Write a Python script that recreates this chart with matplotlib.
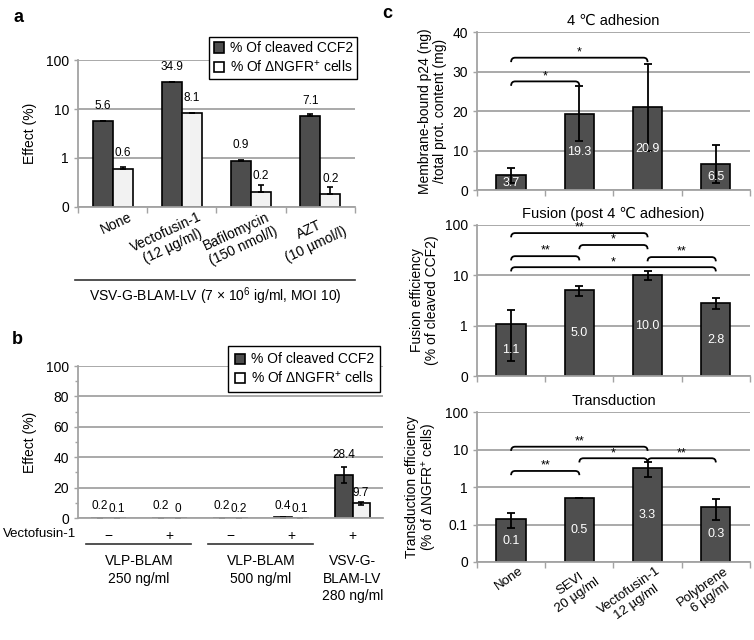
import matplotlib
matplotlib.use('Agg')
import matplotlib.pyplot as plt
import numpy as np
from matplotlib.patches import Patch, PathPatch
from matplotlib.path import Path
from matplotlib.lines import Line2D
from matplotlib import transforms as mtransforms
from matplotlib.ticker import FixedLocator, FixedFormatter, NullLocator, MultipleLocator

plt.rcParams['font.family'] = ['Liberation Sans', 'DejaVu Sans']
plt.rcParams['mathtext.fontset'] = 'custom'
plt.rcParams['mathtext.rm'] = 'Liberation Sans'
plt.rcParams['mathtext.it'] = 'Liberation Sans:italic'

DARK = '#4d4d4d'
LIGHT = '#f2f2f2'
GRID = '#a3a3a3'

# panel a: VSV-G-BLAM-LV, log scale
a_labels = ['None', 'Vectofusin-1\n(12 µg/ml)', 'Bafilomycin\n(150 nmol/l)', 'AZT\n(10 µmol/l)']
a_ccf2 = [5.6, 34.9, 0.86, 7.1]
a_ccf2_err = [0.1, 0.6, 0.04, 0.8]
a_ngfr = [0.6, 8.1, 0.2, 0.18]
a_ngfr_err = [0.04, 0.1, 0.08, 0.07]

# panel b: VLP-BLAM vs VSV-G-BLAM-LV, linear scale
b_vecto = ['−', '+', '−', '+', '+']
b_ccf2 = [0.2, 0.2, 0.2, 0.4, 28.4]
b_ccf2_err = [0.05, 0.05, 0.05, 0.1, 5.3]
b_ngfr = [0.1, 0.0, 0.2, 0.1, 9.7]
b_ngfr_err = [0.03, 0.0, 0.05, 0.03, 1.0]
b_groups = ['VLP-BLAM\n250 ng/ml', 'VLP-BLAM\n500 ng/ml', 'VSV-G-\nBLAM-LV\n280 ng/ml']
b_group_span = [(0, 1), (2, 3), (4, 4)]

# panel c
c_labels = ['None', 'SEVI\n20 µg/ml', 'Vectofusin-1\n12 µg/ml', 'Polybrene\n6 µg/ml']
c1_vals = [3.7, 19.3, 20.9, 6.5]
c1_err = [1.8, 7.0, 11.0, 4.8]
c1_brackets = [(0, 1, 27.5, '*'), (0, 2, 33.5, '*')]
c2_vals = [1.1, 5.0, 10.0, 2.8]
c2_err = [0.9, 1.2, 2.1, 0.7]
c2_brackets = [(0, 2, 69, '**'), (1, 2, 40, '*'), (0, 1, 24, '**'), (2, 3, 23, '**'), (0, 3, 14.5, '*')]
c3_vals = [0.14, 0.5, 3.3, 0.3]
c3_err = [0.06, 0.0, 1.4, 0.17]
c3_brackets = [(0, 2, 12, '**'), (1, 2, 5.9, '*'), (2, 3, 5.9, '**'), (0, 1, 2.7, '**')]

fig = plt.figure(figsize=(7.54, 6.4), dpi=100)


def style_axes(ax):
    for s in ['top', 'right']:
        ax.spines[s].set_visible(False)
    for s in ['left', 'bottom']:
        ax.spines[s].set_color(GRID)
        ax.spines[s].set_linewidth(1.3)
    ax.yaxis.grid(True, color=GRID, lw=1.3)
    ax.set_axisbelow(True)
    ax.tick_params(axis='y', colors=GRID, labelcolor='black', labelsize=10, length=3, width=1)
    ax.tick_params(axis='x', which='major', length=0, labelsize=10)
    ax.tick_params(axis='x', which='minor', colors=GRID, length=4, width=1)


def log_ticks(ax, ticks, labels):
    ax.set_yscale('log')
    ax.set_ylim(ticks[0], ticks[-1])
    ax.yaxis.set_major_locator(FixedLocator(ticks))
    ax.yaxis.set_major_formatter(FixedFormatter(labels))
    ax.yaxis.set_minor_locator(NullLocator())


def shift_labels(ax, dx_px):
    off = mtransforms.ScaledTranslation(dx_px / 100, 0, fig.dpi_scale_trans)
    for lab in ax.get_xticklabels():
        lab.set_transform(lab.get_transform() + off)


def bracket(ax, x0, x1, y, label):
    trans = mtransforms.blended_transform_factory(ax.transData, ax.transAxes)
    yf = ax.transAxes.inverted().transform(ax.transData.transform((0, y)))[1]
    h, dx = 0.028, 0.06
    verts = [(x0, yf - h), (x0, yf), (x0 + dx, yf), (x1 - dx, yf), (x1, yf), (x1, yf - h)]
    codes = [Path.MOVETO, Path.CURVE3, Path.CURVE3, Path.LINETO, Path.CURVE3, Path.CURVE3]
    ax.add_patch(PathPatch(Path(verts, codes), transform=trans, fill=False,
                           lw=1.3, edgecolor='black', clip_on=False))
    ax.text((x0 + x1) / 2, yf - 0.005, label, transform=trans, ha='center', va='bottom', fontsize=9)


legend_handles = [Patch(facecolor=DARK, edgecolor='black', lw=1.2),
                  Patch(facecolor='white', edgecolor='black', lw=1.2)]
legend_labels = ['% Of cleaved CCF2', '% Of ΔNGFR$^{+}$ cells']


def add_legend(ax, anchor, pad=0.3):
    leg = ax.legend(legend_handles, legend_labels, loc='upper right', bbox_to_anchor=anchor,
                    bbox_transform=fig.transFigure, borderaxespad=0, fancybox=False,
                    handlelength=0.75, handleheight=0.75, handletextpad=0.4,
                    labelspacing=0.25, borderpad=pad, fontsize=10, framealpha=1)
    leg.get_frame().set_edgecolor('black')
    leg.get_frame().set_linewidth(1.0)


# ---------------- panel a ----------------
axa = fig.add_axes([0.1034, 0.677, 0.3674, 0.229])
style_axes(axa)
log_ticks(axa, [0.1, 1, 10, 100], ['0', '1', '10', '100'])
xa = np.arange(len(a_labels))
w = 0.29
z = np.zeros(len(xa))
axa.bar(xa - w / 2, np.array(a_ccf2) - 0.1, w, bottom=0.1, color=DARK, edgecolor='black', lw=1.2,
        yerr=[z, a_ccf2_err], error_kw=dict(ecolor='black', capsize=2.5, elinewidth=1.2, capthick=1.2))
axa.bar(xa + w / 2, np.array(a_ngfr) - 0.1, w, bottom=0.1, color=LIGHT, edgecolor='black', lw=1.2,
        yerr=[z, a_ngfr_err], error_kw=dict(ecolor='black', capsize=2.5, elinewidth=1.2, capthick=1.2))
for i in xa:
    axa.annotate(f'{a_ccf2[i]:.1f}', (i - w / 2, a_ccf2[i]), xytext=(0, 7), textcoords='offset points',
                 ha='center', va='bottom', fontsize=8.5)
    axa.annotate(f'{a_ngfr[i]:.1f}', (i + w / 2, a_ngfr[i]), xytext=(0, 7), textcoords='offset points',
                 ha='center', va='bottom', fontsize=8.5)
axa.set_xlim(-0.5, len(xa) - 0.5)
axa.set_xticks(xa)
axa.set_xticks(np.arange(-0.5, len(xa)), minor=True)
axa.set_xticklabels(a_labels, rotation=25, ha='right', va='top', rotation_mode='anchor',
                    multialignment='center')
axa.tick_params(axis='x', which='major', pad=2)
shift_labels(axa, 16)
axa.set_ylabel('Effect (%)', fontsize=10, labelpad=6)
add_legend(axa, (0.4735, 0.942))
fig.add_artist(Line2D([75 / 754, 355 / 754], [1 - 280 / 640] * 2, transform=fig.transFigure,
                      color='#333333', lw=1.2))
fig.text(215 / 754, 1 - 296 / 640, 'VSV-G-BLAM-LV (7 × 10$^{6}$ ig/ml, MOI 10)',
         ha='center', va='center', fontsize=10)
fig.text(13 / 754, 1 - 18 / 640, 'a', fontsize=13, fontweight='bold', va='center')

# ---------------- panel b ----------------
axb = fig.add_axes([0.1034, 0.1906, 0.4046, 0.2375])
style_axes(axb)
axb.set_ylim(0, 100)
axb.yaxis.set_major_locator(MultipleLocator(20))
axb.yaxis.set_minor_locator(MultipleLocator(10))
axb.tick_params(axis='y', which='minor', colors=GRID, length=2, width=1)
xb = np.arange(len(b_vecto))
wb = 0.28
axb.bar(xb - wb / 2, b_ccf2, wb, color=DARK, edgecolor='black', lw=1.2,
        yerr=b_ccf2_err, error_kw=dict(ecolor='black', capsize=2.5, elinewidth=1.2, capthick=1.2))
axb.bar(xb + wb / 2, b_ngfr, wb, color=LIGHT, edgecolor='black', lw=1.2,
        yerr=b_ngfr_err, error_kw=dict(ecolor='black', capsize=2.5, elinewidth=1.2, capthick=1.2))
for i in xb:
    axb.annotate(f'{b_ccf2[i]:g}', (i - wb / 2, b_ccf2[i] + b_ccf2_err[i]), xytext=(0, 4),
                 textcoords='offset points', ha='center', va='bottom', fontsize=8.5)
    axb.annotate(f'{b_ngfr[i]:g}', (i + wb / 2, b_ngfr[i] + b_ngfr_err[i]), xytext=(0, 2),
                 textcoords='offset points', ha='center', va='bottom', fontsize=8.5)
axb.set_xlim(-0.5, len(xb) - 0.5)
axb.set_xticks(xb)
axb.set_xticklabels(b_vecto, fontsize=10)
axb.tick_params(axis='x', which='major', pad=8)
axb.set_ylabel('Effect (%)', fontsize=10, labelpad=6)
tb = mtransforms.blended_transform_factory(axb.transData, axb.transAxes)
axb.text(-0.005, -0.105, 'Vectofusin-1', transform=axb.transAxes, ha='right', va='center', fontsize=9.5)
for name, (g0, g1) in zip(b_groups, b_group_span):
    if g1 > g0:
        axb.add_line(Line2D([g0 - 0.37, g1 + 0.35], [-0.17, -0.17], transform=tb,
                            color='#333333', lw=1.2, clip_on=False))
    axb.text((g0 + g1) / 2, -0.235, name, transform=tb, ha='center', va='top',
             fontsize=10, linespacing=1.35)
add_legend(axb, (0.504, 0.459), pad=0.45)
fig.text(12 / 754, 1 - 340 / 640, 'b', fontsize=13, fontweight='bold', va='center')

# ---------------- panel c ----------------
xc = np.arange(len(c_labels))
wc = 0.43
ekw = dict(ecolor='black', capsize=3, elinewidth=1.3, capthick=1.3)


def panel_c(rect, title, ylabel, vals, err, brackets, log=None):
    ax = fig.add_axes(rect)
    style_axes(ax)
    if log:
        log_ticks(ax, *log)
        base = log[0][0]
        ax.bar(xc, np.array(vals) - base, wc, bottom=base, color='#4f4f4f', edgecolor='black', lw=1.2,
               yerr=err, error_kw=ekw)
        mids = [np.sqrt(base * v) for v in vals]
    else:
        ax.set_ylim(0, 40)
        ax.yaxis.set_major_locator(MultipleLocator(10))
        ax.bar(xc, vals, wc, color='#4f4f4f', edgecolor='black', lw=1.2, yerr=err, error_kw=ekw)
        mids = [v / 2 for v in vals]
    for i in xc:
        ax.text(i, mids[i], f'{vals[i]:.1f}', ha='center', va='center', color='white', fontsize=9)
    ax.set_xlim(-0.5, len(xc) - 0.5)
    ax.set_xticks(xc)
    ax.set_xticks(np.arange(-0.5, len(xc)), minor=True)
    ax.set_xticklabels([])
    ax.set_title(title, fontsize=10.5, pad=5)
    ax.set_ylabel(ylabel, fontsize=10, labelpad=4, linespacing=1.1)
    for x0, x1, y, s in brackets:
        bracket(ax, x0, x1, y, s)
    return ax


panel_c([0.6326, 0.703, 0.362, 0.247], '4 ℃ adhesion',
        'Membrane-bound p24 (ng)\n/total prot. content (mg)', c1_vals, c1_err, c1_brackets)
panel_c([0.6326, 0.4125, 0.362, 0.236], 'Fusion (post 4 ℃ adhesion)',
        'Fusion efficiency\n(% of cleaved CCF2)', c2_vals, c2_err, c2_brackets,
        log=([0.1, 1, 10, 100], ['0', '1', '10', '100']))
axc3 = panel_c([0.6326, 0.1219, 0.362, 0.234], 'Transduction',
               'Transduction efficiency\n(% of ΔNGFR$^{+}$ cells)', c3_vals, c3_err, c3_brackets,
               log=([0.01, 0.1, 1, 10, 100], ['0', '0.1', '1', '10', '100']))
axc3.set_xticklabels(c_labels, rotation=35, ha='right', va='top', rotation_mode='anchor',
                     multialignment='center', fontsize=9.5)
axc3.tick_params(axis='x', which='major', pad=2)
shift_labels(axc3, 8)
fig.text(382 / 754, 1 - 13 / 640, 'c', fontsize=13, fontweight='bold', va='center')

fig.savefig('out.png', dpi=100)
